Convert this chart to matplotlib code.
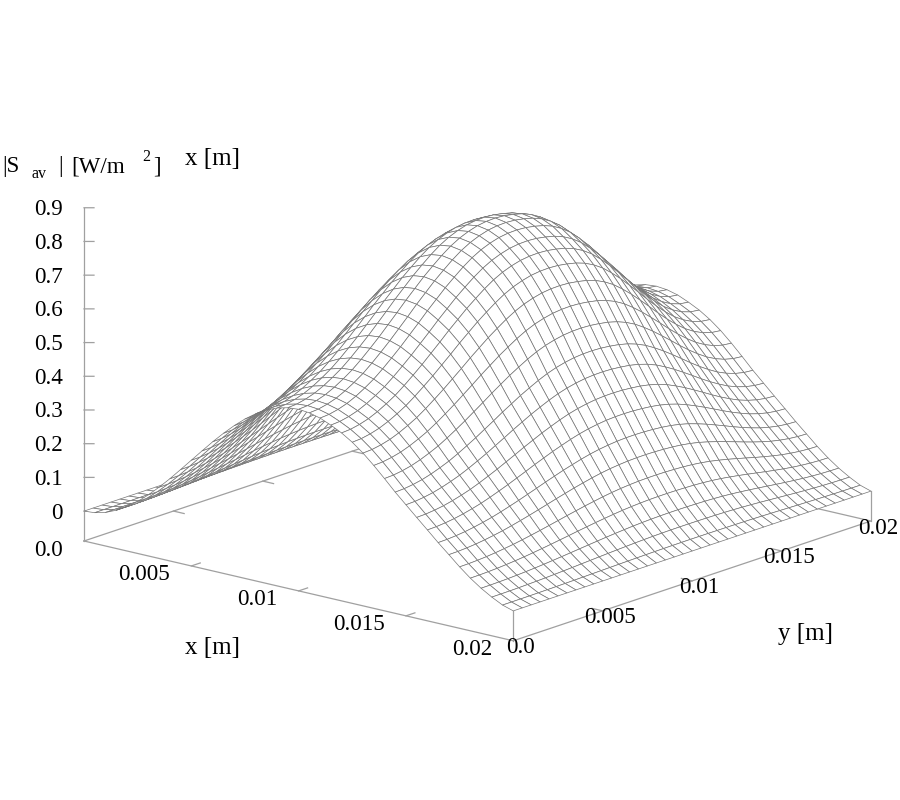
import numpy as np
import matplotlib
matplotlib.use("Agg")
import matplotlib.pyplot as plt
from mpl_toolkits.mplot3d import proj3d

# ---- data ----
x_mesh = [i * 0.0005 for i in range(41)]
y_mesh = [i * 0.0005 for i in range(41)]
# relative height across x (mesh lines), from the y=0 and y=0.02 edge silhouettes
x_shape = [0.000, 0.006, 0.024, 0.055, 0.095, 0.146, 0.206, 0.273, 0.345, 0.422,
           0.500, 0.578, 0.655, 0.727, 0.794, 0.854, 0.905, 0.946, 0.976, 0.994,
           1.000, 0.993, 0.975, 0.945, 0.910, 0.865, 0.810, 0.745, 0.675, 0.602,
           0.535, 0.468, 0.402, 0.335, 0.272, 0.208, 0.150, 0.100, 0.058, 0.022, 0.000]
# ridge height (near x=0.01) along y, W/m^2
y_ridge = [0.450, 0.452, 0.458, 0.467, 0.480, 0.496, 0.514, 0.536, 0.560, 0.585,
           0.612, 0.639, 0.667, 0.693, 0.719, 0.742, 0.764, 0.783, 0.798, 0.809,
           0.817, 0.821, 0.822, 0.820, 0.815, 0.808, 0.797, 0.781, 0.760, 0.733,
           0.703, 0.670, 0.636, 0.601, 0.568, 0.538, 0.511, 0.490, 0.474, 0.464, 0.460]
x_ticks = [0.0, 0.005, 0.01, 0.015, 0.02]
x_tick_labels = ["0.0", "0.005", "0.01", "0.015", "0.02"]
y_ticks = [0.0, 0.005, 0.01, 0.015, 0.02]
y_tick_labels = ["0.0", "0.005", "0.01", "0.015", "0.02"]
z_ticks = [0, 0.1, 0.2, 0.3, 0.4, 0.5, 0.6, 0.7, 0.8, 0.9]
z_tick_labels = ["0", "0.1", "0.2", "0.3", "0.4", "0.5", "0.6", "0.7", "0.8", "0.9"]

# ---- style / layout ----
SERIF = "Liberation Serif"
FS = 16.6
FS_TITLE = 18
FS_SMALL = 11.5
GREY = "#a0a0a0"
MESH = "#757575"
ZBASE = -0.0887
W, H = 900, 800

fig = plt.figure(figsize=(9, 8), dpi=100, facecolor="white")
ax = fig.add_axes([-0.15, -0.2, 1.3, 1.4], projection="3d", proj_type="ortho")
ax.computed_zorder = False
ax.set_axis_off()
ax.view_init(elev=16.2, azim=-50.2)
ax.set_xlim(0, 0.02, view_margin=0)
ax.set_ylim(0, 0.02, view_margin=0)
ax.set_zlim(ZBASE, 0.9, view_margin=0)
aspect = (558.7, 558.7, 347.0)
ax.set_box_aspect(aspect, zoom=1.0)


def project(x, y, z):
    X, Y, _ = proj3d.proj_transform(x, y, z, ax.get_proj())
    return ax.transData.transform((X, Y))


# calibrate the 3D box onto the reference's pixel frame
fig.canvas.draw()
a = project(0, 0, ZBASE)
c = project(0.02, 0.02, ZBASE)
target = np.hypot(871 - 84, 523 - 541)
ax.set_box_aspect(aspect, zoom=target / np.hypot(*(c - a)))
fig.canvas.draw()
a = project(0, 0, ZBASE)
pos = ax.get_position(original=True)
ax.set_position([pos.x0 + (84 - a[0]) / W, pos.y0 + ((H - 541) - a[1]) / H, pos.width, pos.height])
fig.canvas.draw()

# frame
line = dict(color=GREY, lw=0.9, zorder=1)
xb, yb = 0.02, 0.02
ax.plot([0, xb, xb, 0, 0], [0, 0, yb, yb, 0], [ZBASE] * 5, **line)
ax.plot([0, 0], [0, 0], [ZBASE, 0.9], **line)
ax.plot([xb, xb], [0, 0], [ZBASE, 0], **line)
ax.plot([xb, xb], [yb, yb], [ZBASE, 0], **line)
ax.plot([0, 0], [yb, yb], [ZBASE, 0], **line)

# ticks with mirrors
t = 0.0005
for v in x_ticks[1:-1]:
    ax.plot([v, v], [0, t], [ZBASE, ZBASE], **line)
    ax.plot([v, v], [yb, yb - t], [ZBASE, ZBASE], **line)
for v in y_ticks[1:-1]:
    ax.plot([0, t], [v, v], [ZBASE, ZBASE], **line)
    ax.plot([xb, xb - t], [v, v], [ZBASE, ZBASE], **line)
for v in z_ticks:
    ax.plot([0, 0.000276], [0, 0.000228], [v, v], **line)

# surface
X, Y = np.meshgrid(np.array(x_mesh), np.array(y_mesh), indexing="ij")
Z = np.outer(np.array(x_shape), np.array(y_ridge))
ax.plot_surface(X, Y, Z, rstride=1, cstride=1, color="white", edgecolor=MESH,
                linewidth=0.5, shade=False, antialiased=True, zorder=2)


def label(px, py, s, size=FS, ha="left", va="baseline"):
    fig.text(px / W, 1 - py / H, s, family=SERIF, fontsize=size, ha=ha, va=va, color="black")


# tick labels, positioned from the projected tick locations
for v, s in zip(x_ticks, x_tick_labels):
    p = project(v, 0, ZBASE)
    label(p[0] - 21, H - p[1] + 9, s, ha="right", va="center")
for v, s in zip(y_ticks, y_tick_labels):
    p = project(xb, v, ZBASE)
    label(p[0] + 7, H - p[1] + 7, s, ha="center", va="center")
for v, s in zip(z_ticks, z_tick_labels):
    p = project(0, 0, v)
    label(p[0] - 21, H - p[1] + 2, s, ha="right", va="center")

# axis titles
label(185, 654, "x [m]", size=FS_TITLE)
label(778, 640, "y [m]", size=FS_TITLE)
label(185, 165, "x [m]", size=FS_TITLE)
label(2, 172, "|S")
label(32, 178, "av", size=FS_SMALL)
label(58, 172, "|")
label(71, 172, "[W/m")
label(142, 161, "2", size=FS_SMALL)
label(153, 172, "]")

fig.savefig("out.png", dpi=100, facecolor="white")
